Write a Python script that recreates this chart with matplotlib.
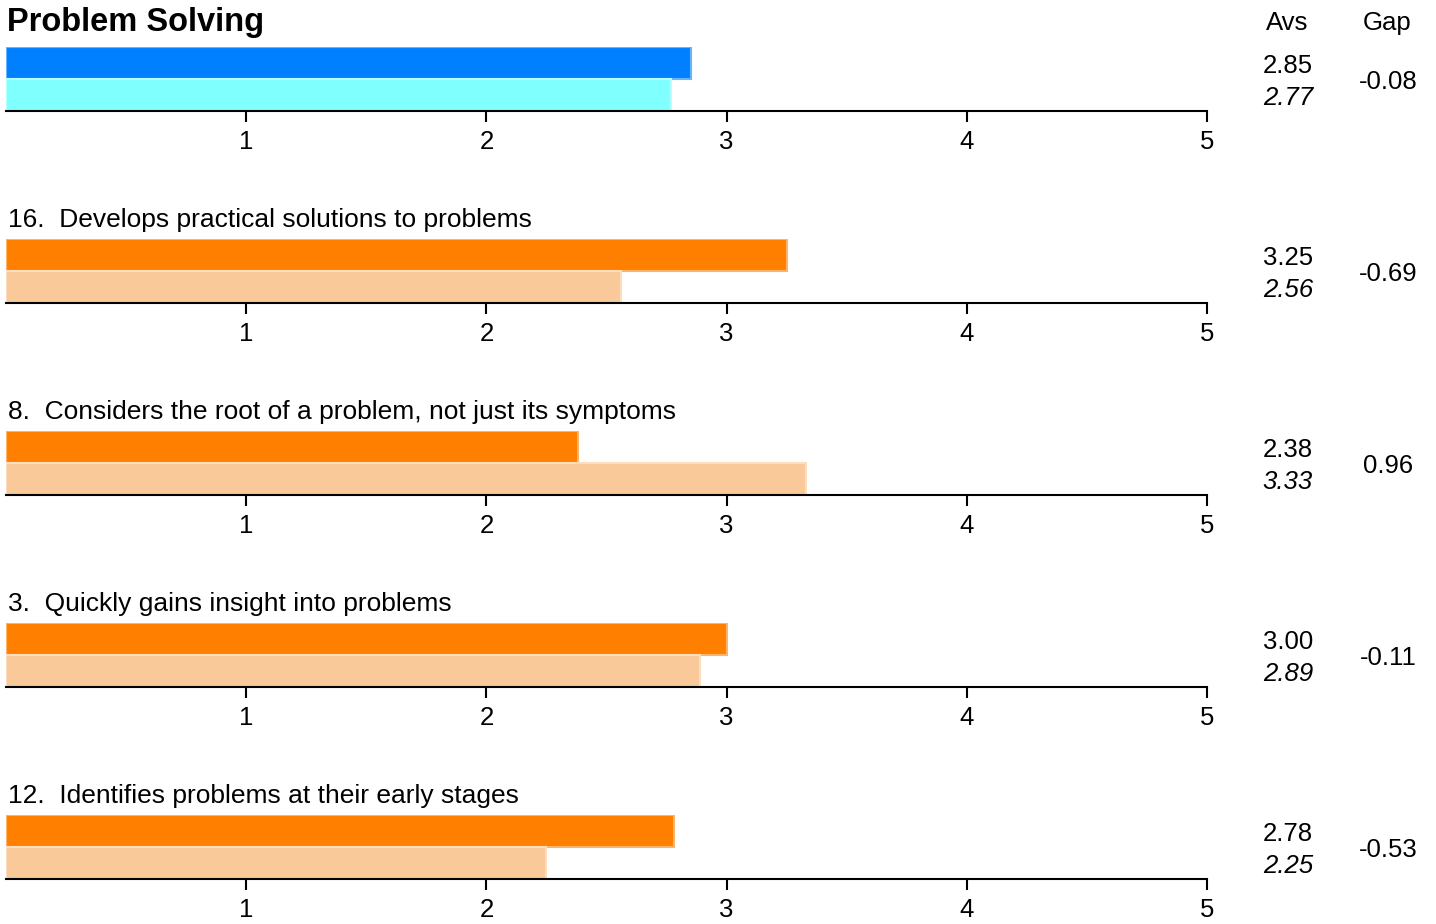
import matplotlib
matplotlib.use("Agg")
import matplotlib.pyplot as plt

plt.rcParams['font.family'] = ['Liberation Sans', 'DejaVu Sans']

# data
title = "Problem Solving"
items = ["16.  Develops practical solutions to problems",
         "8.  Considers the root of a problem, not just its symptoms",
         "3.  Quickly gains insight into problems",
         "12.  Identifies problems at their early stages"]
self_vals = [2.85, 3.25, 2.38, 3.00, 2.78]
other_vals = [2.77, 2.56, 3.33, 2.89, 2.25]
gaps = ["-0.08", "-0.69", "0.96", "-0.11", "-0.53"]
ticks = [1, 2, 3, 4, 5]

top_colors = ["#0080FF", "#FF8000", "#FF8000", "#FF8000", "#FF8000"]
bot_colors = ["#80FFFF", "#F9C99A", "#F9C99A", "#F9C99A", "#F9C99A"]
top_edges = ["#66B3FF", "#FFB366", "#FFB366", "#FFB366", "#FFB366"]
bot_edges = ["#B3FFFF", "#FCDDBE", "#FCDDBE", "#FCDDBE", "#FCDDBE"]

W, H = 1436, 924
fig = plt.figure(figsize=(W / 100, H / 100), dpi=100)

x0, x1 = 6, 1207
fs = 18.5

fig.text(7 / W, 1 - 23 / H, title, fontsize=23.5, fontweight='bold', va='center', ha='left')
fig.text(1287 / W, 1 - 23 / H, "Avs", fontsize=fs, va='center', ha='center')
fig.text(1387 / W, 1 - 23 / H, "Gap", fontsize=fs, va='center', ha='center')

for i in range(5):
    base = 111 + 192 * i
    ax = fig.add_axes([x0 / W, 1 - base / H, (x1 - x0) / W, 64 / H])
    ax.barh([0.75], [self_vals[i]], height=0.5, color=top_colors[i],
            edgecolor=top_edges[i], linewidth=1.5)
    ax.barh([0.25], [other_vals[i]], height=0.5, color=bot_colors[i],
            edgecolor=bot_edges[i], linewidth=1.5)
    ax.set_xlim(0, 5)
    ax.set_ylim(0, 1)
    for s in ['top', 'left', 'right']:
        ax.spines[s].set_visible(False)
    ax.spines['bottom'].set_linewidth(1.5)
    ax.set_xticks(ticks)
    ax.set_xticklabels([str(t) for t in ticks], fontsize=fs)
    ax.tick_params(axis='x', length=8, width=1.5, pad=6)
    ax.set_yticks([])
    ax.patch.set_alpha(0)

    if i > 0:
        fig.text(8 / W, 1 - (base - 83) / H, items[i - 1], fontsize=19,
                 va='center', ha='left')
    fig.text(1288 / W, 1 - (base - 45) / H, f"{self_vals[i]:.2f}", fontsize=fs,
             va='center', ha='center')
    fig.text(1288 / W, 1 - (base - 13) / H, f"{other_vals[i]:.2f}", fontsize=fs,
             va='center', ha='center', style='italic')
    fig.text(1388 / W, 1 - (base - 29) / H, gaps[i], fontsize=fs,
             va='center', ha='center')

fig.savefig("out.png", dpi=100)
